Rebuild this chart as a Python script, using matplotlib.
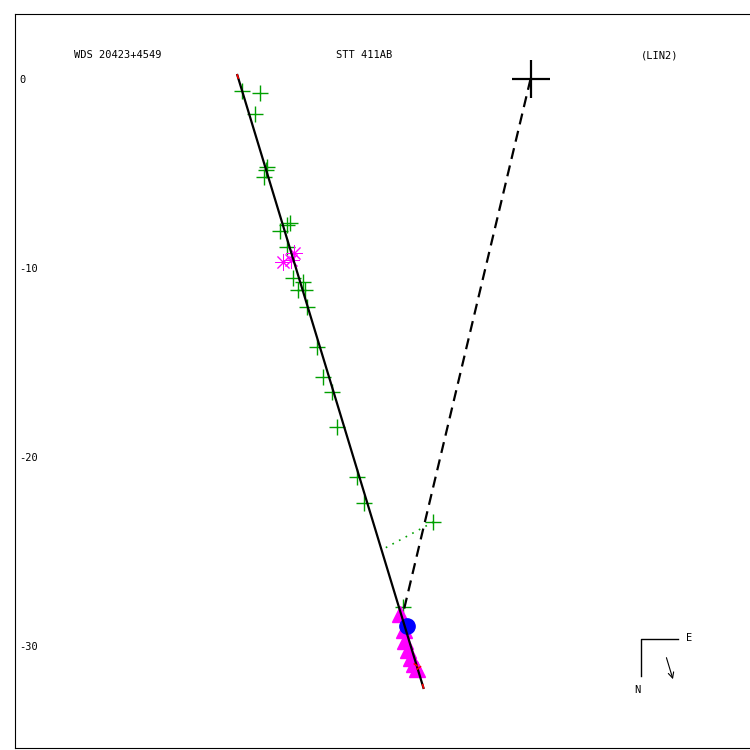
# Linear-fit plot of WDS 20423+4549 (STT 411AB)
import matplotlib
matplotlib.use("Agg")
import matplotlib.pyplot as plt

plt.rcParams['axes.unicode_minus'] = False
plt.rcParams['font.family'] = 'DejaVu Sans Mono'

# micrometer measures (green +)
micro_x = [-15.24, -14.29, -14.55, -13.92, -13.97, -14.07, -12.70, -12.86, -13.23, -12.86,
           -12.54, -12.01, -12.28, -11.90, -11.80, -11.27, -10.95, -10.48, -10.21, -9.15,
           -8.78, -5.13, -6.72]
micro_y = [-0.63, -0.74, -1.85, -4.66, -4.81, -5.19, -7.62, -7.72, -8.04, -8.89,
           -10.53, -10.74, -11.16, -11.16, -12.06, -14.18, -15.77, -16.56, -18.41, -21.06,
           -22.43, -23.44, -27.94]

# Hipparcos-type measures (magenta asterisks)
hip_x = [-12.49, -13.07, -12.65]
hip_y = [-9.21, -9.68, -9.58]

# speckle measures (magenta triangles)
spk_x = [-6.88, -6.67, -6.61, -6.46, -6.30, -6.14, -5.98]
spk_y = [-28.31, -29.15, -29.74, -30.21, -30.63, -30.95, -31.22]

# blue circle
blue_x = [-6.51]
blue_y = [-28.94]

# linear ephemeris
fit_x = [-15.50, -5.66]
fit_y = [0.21, -32.22]

# primary to current position
dash_x = [0.0, -6.72]
dash_y = [0.0, -28.20]

# O-C lines
oc_x = [-5.13, -7.67]
oc_y = [-23.44, -24.81]
red_oc = [([-15.50, -15.45], [0.21, 0.05]),
          ([-6.14, -6.00], [-30.95, -31.05]),
          ([-5.98, -5.82], [-31.22, -31.10]),
          ([-5.70, -5.66], [-32.05, -32.22])]

yticks = [0, -10, -20, -30]

fig = plt.figure(figsize=(7.5, 7.5), dpi=100)
ax = fig.add_axes([0.02, 0.00267, 0.98, 0.9787])
ax.set_xlim(-27.25, 11.6)
ax.set_ylim(-35.40, 3.44)
ax.spines['right'].set_visible(False)
ax.set_xticks([])
ax.set_yticks(yticks)
ax.tick_params(axis='y', length=0, pad=-3, labelsize=7.5)
for lbl in ax.get_yticklabels():
    lbl.set_horizontalalignment('left')

ax.plot(micro_x, micro_y, '+', color='#00a000', ms=11, mew=1.0, zorder=4)
ax.plot(hip_x, hip_y, marker=(8, 2, 0), ls='none', color='magenta', ms=12, mew=0.7, zorder=4)
ax.plot(spk_x, spk_y, '^', color='magenta', ms=12, mec='magenta', zorder=4)
ax.plot(blue_x, blue_y, 'o', color='blue', ms=11, zorder=5)
ax.plot([0], [0], '+', color='black', ms=27, mew=1.6, zorder=5)

ax.plot(fit_x, fit_y, color='black', lw=1.6, zorder=6)
ax.plot(dash_x, dash_y, color='black', lw=1.6, ls=(0, (5, 3)), zorder=6)
ax.plot(oc_x, oc_y, color='#00a000', lw=1.2, ls=(0, (1, 3.5)), zorder=2)
for xs, ys in red_oc:
    ax.plot(xs, ys, color='red', lw=1.2, zorder=6)

# titles
ax.text(-21.8, 1.25, "WDS 20423+4549", fontsize=7.5, ha='center', va='center')
ax.text(-8.8, 1.25, "STT 411AB", fontsize=7.5, ha='center', va='center')
ax.text(6.8, 1.25, "(LIN2)", fontsize=7.5, ha='center', va='center')

# compass
ax.plot([7.78, 5.82, 5.82], [-29.63, -29.63, -31.59], color='black', lw=1.0)
ax.text(8.36, -29.58, "E", fontsize=7.5, ha='center', va='center')
ax.text(5.66, -32.33, "N", fontsize=7.5, ha='center', va='center')
ax.annotate("", xy=(7.57, -31.90), xytext=(7.14, -30.48),
            arrowprops=dict(arrowstyle='->', lw=0.8, color='black'))

fig.savefig("out.png", dpi=100)
